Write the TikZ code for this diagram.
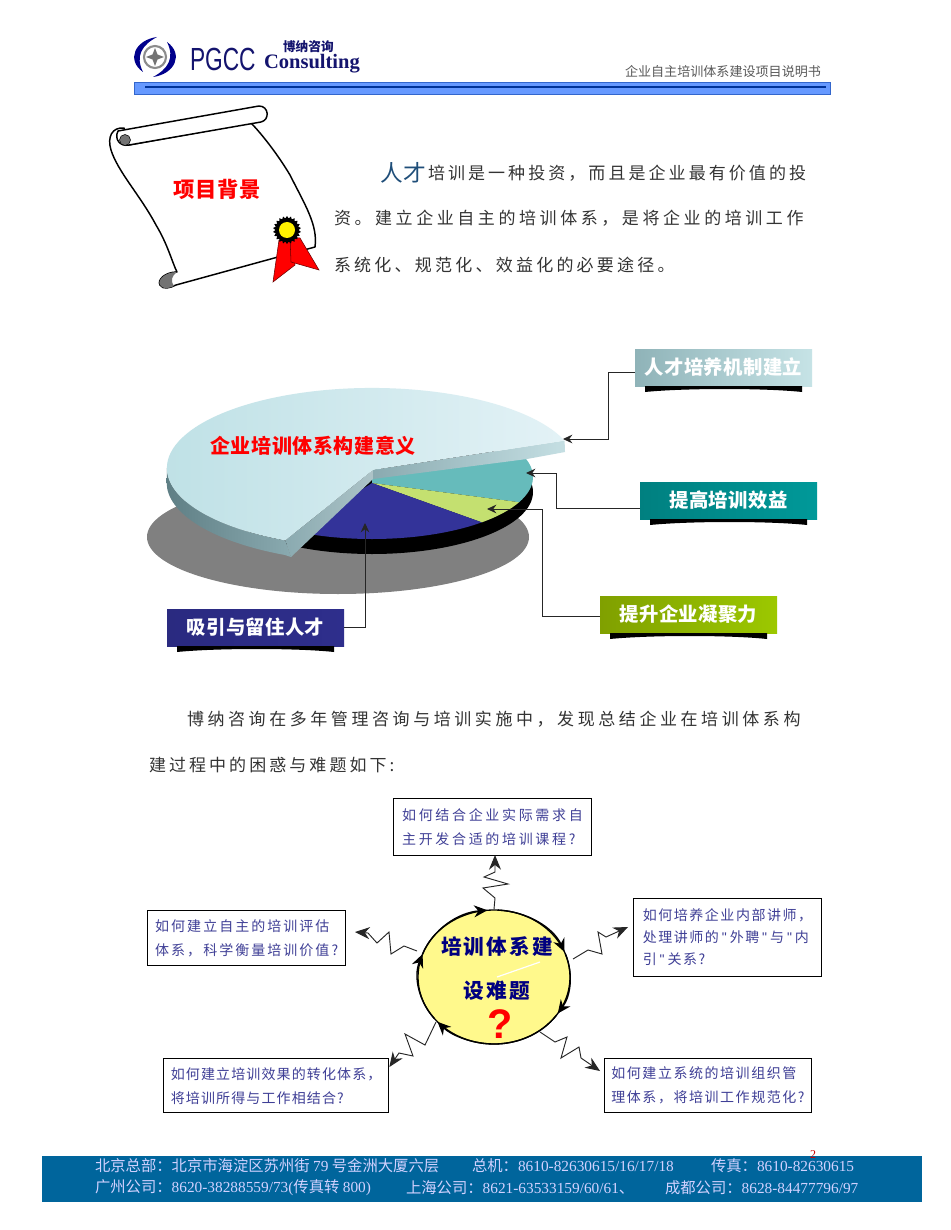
\documentclass[tikz,border=0pt]{standalone}
\usepackage{fontspec}
\setmainfont{Noto Sans CJK SC}
\newfontfamily\latsf{Liberation Sans}
\newfontfamily\latse{Liberation Serif}
\usetikzlibrary{arrows.meta,shapes.geometric,calc}
\newcommand{\fs}[2][0]{\fontsize{#2}{#2}\selectfont\addfontfeatures{LetterSpace=#1}}
\newcommand{\boxfs}[2]{\fontsize{10.5}{#1}\selectfont\addfontfeatures{LetterSpace=#2}}
\newcommand{\labfs}{\fs[2]{14.5}\bfseries}
\newcommand{\footfs}{\fs{11.5}}
\newcommand{\nn}[1]{{\latse\fontsize{11.5}{12}\selectfont #1}}
\newcommand{\qq}{\hspace{2.2pt}{\latsf"}\hspace{2.2pt}}
\definecolor{qtext}{HTML}{3F3F96}
\definecolor{navy}{HTML}{14146E}
\tikzset{
  x=0.75pt,y=-0.75pt,
  tx/.style={inner sep=0pt,outer sep=0pt,anchor=west,text=#1},
  tx/.default=black,
  lab/.style={minimum width=132.75pt,minimum height=27.75pt,inner sep=0pt,outer sep=0pt,text=white,font=\labfs},
  conn/.style={draw=black!85,line width=0.7pt,-{Stealth[length=7pt,width=6.5pt]}},
  zig/.style={draw=black!85,line width=0.7pt,-{Stealth[length=11pt,width=9pt]}},
  ring/.style={draw=black,line width=1pt,-{Stealth[length=10pt,width=9pt]}},
  qbox/.style={draw=black,line width=0.7pt,fill=white,inner sep=0pt,text=qtext,align=left},
  foot/.style={inner sep=0pt,outer sep=0pt,anchor=west,text=white!82!blue,font=\footfs},
  scrollln/.style={draw=black,line width=1.1pt,fill=white,line join=round},
}
\newcommand{\labshadow}[1]{\fill[black,shift={(#1.south west)}] (10,0) -- (167,0) -- (167,6) .. controls (130,2) and (50,2) .. (10,6) -- cycle;}
\begin{document}
\begin{tikzpicture}
\useasboundingbox (0,0) rectangle (950,1230);
\fill[white] (0,0) rectangle (950,1230);

% logo
\fill[blue!55!black] (157,37) .. controls (135,40) and (126,60) .. (143,72) .. controls (135,56) and (142,45) .. (157,37) -- cycle;
\fill[blue!55!black] (153,77) .. controls (175,74) and (184,54) .. (167,42) .. controls (175,58) and (168,69) .. (153,77) -- cycle;
\draw[black!45,line width=1.6pt] (155,57) circle (11);
\fill[black!55] (155,48) -- (157.5,54.5) -- (164,57) -- (157.5,59.5) -- (155,66) -- (152.5,59.5) -- (146,57) -- (152.5,54.5) -- cycle;
\node[tx=navy] (pgcc) at (190,59) {\latsf\fontsize{24}{24}\selectfont\scalebox{.71}[1]{PGCC}};
\node[tx=navy] (cons) at (264,64) {\latse\bfseries\fontsize{15.4}{16}\selectfont Consulting};
\node[tx=navy] (bona) at (283,47) {\fontsize{9.5}{10}\selectfont\bfseries 博纳咨询};
\node[tx=black!65] (hdr) at (625,72) {\fs{9.8}企业自主培训体系建设项目说明书};
\definecolor{barf}{HTML}{6699FF}\definecolor{barl}{HTML}{3366CC}\definecolor{barin}{HTML}{003399}
\draw[draw=barl,fill=barf,line width=.6pt] (134,82) rectangle (830,94);
\draw[line width=2pt,barin] (145,87) -- (826,87);

% scroll
\path[scrollln] (124,128) .. controls (112,127) and (107,137) .. (111,150) .. controls (118,172) and (140,195) .. (156,225) .. controls (168,245) and (172,262) .. (177,272) .. controls (165,272) and (157,280) .. (160,285) .. controls (163,290) and (170,288) .. (176,285) -- (278,257) -- (315,247) .. controls (318,225) and (305,205) .. (290,175) .. controls (275,150) and (258,130) .. (251,123) -- (129,145) -- cycle;
\path[scrollln] (118,131) -- (259,106) .. controls (269,106) and (270,120) .. (261,122) -- (129,145) .. controls (120,147) and (114,139) .. (118,131) -- cycle;
\fill[black!55,draw=black] (125,140) circle (5.5);
\fill[black!55] (177,272) .. controls (165,272) and (157,280) .. (160,285) .. controls (163,290) and (170,288) .. (174,286) .. controls (170,280) and (172,276) .. (177,272) -- cycle;
\fill[red,draw=black!60!red,line width=.4pt] (279,240) -- (273,282) -- (295,265) -- (293,240) -- cycle;
\fill[red,draw=black!60!red,line width=.4pt] (290,237) -- (300,238) -- (319,270) -- (291,262) -- cycle;
\node[star,star points=22,star point ratio=1.2,fill=black,inner sep=0pt,minimum size=21pt] (seal) at (287,230) {};
\node[circle,fill=yellow,inner sep=0pt,minimum size=12pt] (sealc) at (287,230) {};
\node[text=red,inner sep=0pt] (scrolltitle) at (217,189) {\fs[4]{16}\bfseries 项目背景};

% paragraph 1
\definecolor{rencai}{HTML}{1F4E79}
\node[tx=rencai] (p0) at (380,173) {\fs[2]{17}人才};
\node[tx=black!80] (p1) at (428,173) {\fs[18]{12.75}培训是一种投资，而且是企业最有价值的投};
\node[tx=black!80] (p2) at (334,218) {\fs[21]{12.75}资。建立企业自主的培训体系，是将企业的培训工作};
\node[tx=black!80] (p3) at (334,265) {\fs[19]{12.75}系统化、规范化、效益化的必要途径。};

% pie
\definecolor{pteal}{HTML}{66BBBB}\definecolor{pgreen}{HTML}{C4E070}\definecolor{pnavy}{HTML}{333399}
\definecolor{ltl}{HTML}{BDE0E5}\definecolor{ltr}{HTML}{E3F2F6}
\definecolor{sda}{HTML}{5F7F85}\definecolor{sdb}{HTML}{8AAAB0}\definecolor{sdc}{HTML}{C5DFE3}
\fill[black!50] (338,537) ellipse [x radius=191,y radius=57];
\fill[black] (372,492) ellipse [x radius=161,y radius=62];
\coordinate (apex) at (372,483);
\fill[pteal] (apex) -- (372,470) -- ({372+161*cos(20)},{477-62*sin(20)}) arc [start angle=-20,end angle=24,x radius=161,y radius=62] -- cycle;
\fill[pgreen] (apex) -- ({372+161*cos(-24)},{477-62*sin(-24)}) arc [start angle=24,end angle=47,x radius=161,y radius=62] -- cycle;
\fill[pnavy] (apex) -- ({372+161*cos(-47)},{477-62*sin(-47)}) arc [start angle=47,end angle=118,x radius=161,y radius=62] -- cycle;
% light slice sides
\shade[left color=sda,right color=sdb] (167,468) arc [start angle=180,end angle=115,x radius=205,y radius=80] -- (291,557) -- ++(-6,-2) arc [start angle=115,end angle=180,x radius=205,y radius=80] -- cycle;
\shade[left color=sdb,right color=sdb!70!white] (285.4,540.5) -- (373,470) -- (373,479) -- (291,557) -- cycle;
\shade[left color=sdb,right color=sdc] (373,470) -- (564.6,440.6) -- (565,452) -- (527,459) -- (373,479) -- cycle;
\shade[left color=ltl,right color=ltr] (564.6,440.6) arc [start angle=-20,end angle=-245,x radius=205,y radius=80] -- (373,470) -- cycle;
\node[text=red,inner sep=0pt] (pietitle) at (313,446) {\fs[3]{15}\bfseries 企业培训体系构建意义};

% pie coordinates for connector ends
\coordinate (t1) at (563,439);
\coordinate (t2) at (526,473);
\coordinate (t3) at (487,509);
\coordinate (t4) at (365,523);

% labels
\definecolor{laa}{HTML}{8FB3B8}\definecolor{lab}{HTML}{C6E3E6}
\definecolor{lba}{HTML}{008080}\definecolor{lbb}{HTML}{009999}
\definecolor{lca}{HTML}{80A000}\definecolor{lcb}{HTML}{9CC800}
\definecolor{lda}{HTML}{2A2A80}\definecolor{ldb}{HTML}{2E2E8C}
\node[lab,left color=laa,right color=lab,anchor=north west] (l1) at (635,349) {人才培养机制建立};
\node[lab,left color=lba,right color=lbb,anchor=north west] (l2) at (640,482) {提高培训效益};
\node[lab,left color=lca,right color=lcb,anchor=north west] (l3) at (600,596) {提升企业凝聚力};
\node[lab,left color=lda,right color=ldb,anchor=north west] (l4) at (167,609) {吸引与留住人才};
\labshadow{l1}\labshadow{l2}\labshadow{l3}\labshadow{l4}
\draw[conn] ($(l1.west)+(0,4.5)$) -- ++(-27,0) |- (t1);
\draw[conn] ($(l2.west)+(0,7.5)$) -- ++(-84,0) |- (t2);
\draw[conn] ($(l3.west)+(0,1.5)$) -- ++(-58,0) |- (t3);
\draw[conn] (l4.east) -| (t4);

% paragraph 2
\node[tx=black!80] (p4) at (187,719) {\fs[21]{12.75}博纳咨询在多年管理咨询与培训实施中，发现总结企业在培训体系构};
\node[tx=black!80] (p5) at (149,765) {\fs[18]{12.75}建过程中的困惑与难题如下:};

% question boxes
\node[qbox,minimum width=148.5pt,minimum height=42.75pt,anchor=north west,font=\boxfs{18}{19}] (q1) at (393,798) {如何结合企业实际需求自\\主开发合适的培训课程?};
\node[qbox,minimum width=148.5pt,minimum height=41.25pt,anchor=north west,line width=1pt,font=\boxfs{17.5}{14.5}] (q2) at (147,910) {如何建立自主的培训评估\\体系，科学衡量培训价值?};
\node[qbox,minimum width=141pt,minimum height=58.5pt,anchor=north west,font=\boxfs{16.5}{11}] (q3) at (633,898) {如何培养企业内部讲师，\\处理讲师的\qq{}外聘\qq{}与\qq{}内\\引\qq{}关系?};
\node[qbox,minimum width=168.75pt,minimum height=40.5pt,anchor=north west,line width=1pt,font=\boxfs{18}{8}] (q4) at (163,1058) {如何建立培训效果的转化体系，\\将培训所得与工作相结合?};
\node[qbox,minimum width=155.25pt,minimum height=40.5pt,anchor=north west,font=\boxfs{18}{11}] (q5) at (604,1058) {如何建立系统的培训组织管\\理体系，将培训工作规范化?};

% central ellipse
\node[ellipse,draw=black,line width=1pt,fill=yellow!45,minimum width=114pt,minimum height=100.5pt,inner sep=0pt] (circ) at (494,977) {};
\draw[white,line width=.9pt] (497,977) -- (540,962);
\node[text=blue!50!black,inner sep=0pt] (c1) at (497,947) {\fs[10]{15.5}\bfseries 培训体系建};
\node[text=blue!50!black,inner sep=0pt] (c2) at (497,991) {\fs[10]{15.5}\bfseries 设难题};
\node[text=red,inner sep=0pt] (c3) at (500,1024) {\latsf\fontsize{31}{31}\selectfont\bfseries ?};

% arrows around ellipse
\draw[ring] ({494+76*cos(160)},{977-67*sin(160)}) arc [start angle=-160,end angle=-95,x radius=76,y radius=67];
\draw[ring] ({494+76*cos(87)},{977-67*sin(87)}) arc [start angle=-87,end angle=-22,x radius=76,y radius=67];
\draw[ring] ({494+76*cos(20)},{977-67*sin(20)}) arc [start angle=-20,end angle=33,x radius=76,y radius=67];
\draw[ring] ({494+76*cos(-35)},{977-67*sin(-35)}) arc [start angle=35,end angle=138,x radius=76,y radius=67];
\draw[ring] ({494+76*cos(-142)},{977-67*sin(-142)}) arc [start angle=142,end angle=200,x radius=76,y radius=67];

% zigzag connectors
\coordinate (e1) at (495,855);
\draw[zig] (circ.90) -- (495,898) -- (483,888) -- (508,884) -- (484,877) -- (495,872) -- (e1);
\coordinate (e2) at (355,932);
\draw[zig] (417,951) -- (404,946) -- (391,954) -- (389,932) -- (377,943) -- (368,933) -- (e2);
\coordinate (e3) at (628,927);
\draw[zig] (573,959) -- (588,950) -- (602,954) -- (598,932) -- (606,937) -- (e3);
\draw[zig] (436,1022) -- (425,1045) -- (405,1034) -- (413,1056) -- (399,1053) -- ($(q4.north east)+(0,9)$);
\coordinate (e5) at (600,1071);
\draw[zig] (540,1032) -- (555,1042) -- (567,1037) -- (561,1058) -- (579,1047) -- (581,1058) -- (e5);

% footer
\definecolor{footbg}{HTML}{00659C}
\fill[footbg] (42,1156) rectangle (922,1202);
\node[foot] (f1) at (95,1166) {北京总部：北京市海淀区苏州街 \nn{79} 号金洲大厦六层};
\node[foot] (f2) at (472,1166) {总机：\nn{8610-82630615/16/17/18}};
\node[foot] (f3) at (711,1166) {传真：\nn{8610-82630615}};
\node[foot] (f4) at (95,1188) {广州公司：\nn{8620-38288559/73(}传真转 \nn{800)}};
\node[foot] (f5) at (406,1188) {上海公司：\nn{8621-63533159/60/61}、};
\node[foot] (f6) at (665,1188) {成都公司：\nn{8628-84477796/97}};
\node[text=red!80!black,inner sep=0pt] (pg) at (813,1155) {\latse\fontsize{9}{9}\selectfont 2};
\end{tikzpicture}
\end{document}
